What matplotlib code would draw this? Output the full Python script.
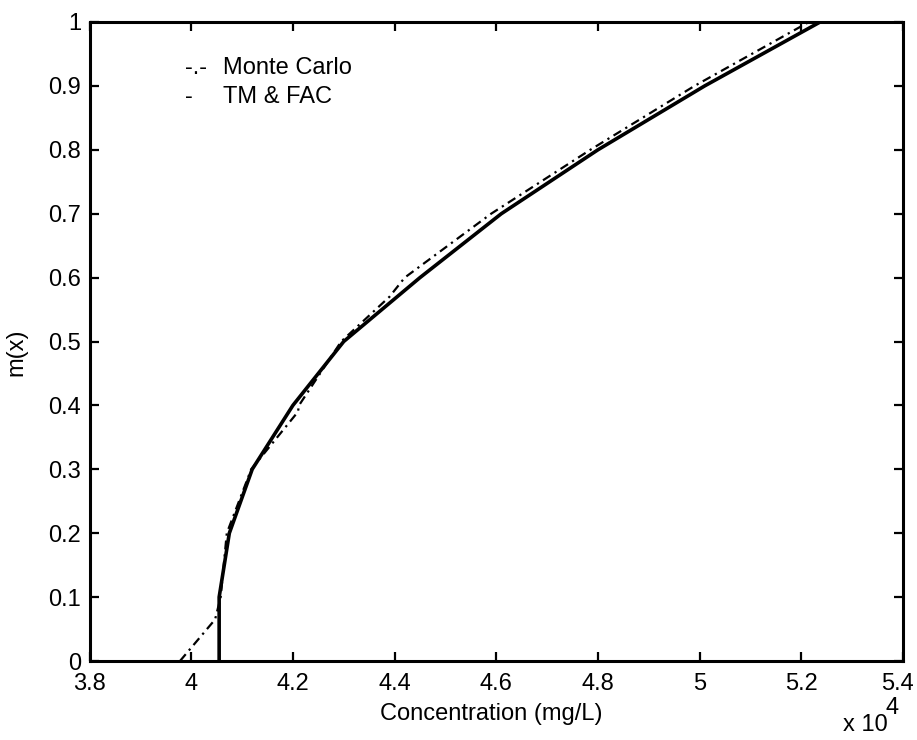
import numpy as np
import matplotlib
matplotlib.use("Agg")
import matplotlib.pyplot as plt
import matplotlib.transforms as mtransforms

plt.rcParams['font.family'] = ['Liberation Sans', 'DejaVu Sans']

# membership levels and concentrations (x 10^4 mg/L)
tm_fac_m = [0.0, 0.10, 0.20, 0.30, 0.40, 0.50, 0.60, 0.70, 0.80, 0.90, 1.00]
tm_fac_x = [4.055, 4.055, 4.075, 4.120, 4.200, 4.300, 4.450, 4.610, 4.800, 5.010, 5.237]

mc_m = [0.0, 0.065, 0.10, 0.20, 0.30, 0.39, 0.40, 0.50, 0.57, 0.60, 0.70, 0.80, 0.90, 1.00]
mc_x = [3.978, 4.047, 4.058, 4.070, 4.118, 4.210, 4.212, 4.295, 4.390, 4.420, 4.590, 4.785, 4.990, 5.215]

xticks = [3.8, 4.0, 4.2, 4.4, 4.6, 4.8, 5.0, 5.2, 5.4]
xtick_labels = ['3.8', '4', '4.2', '4.4', '4.6', '4.8', '5', '5.2', '5.4']
yticks = [0, 0.1, 0.2, 0.3, 0.4, 0.5, 0.6, 0.7, 0.8, 0.9, 1]
ytick_labels = ['0', '0.1', '0.2', '0.3', '0.4', '0.5', '0.6', '0.7', '0.8', '0.9', '1']

fig = plt.figure(figsize=(9.17, 7.40), dpi=100)
ax = fig.add_axes([89.5 / 917, 1 - 661 / 740, 813.5 / 917, 639 / 740])

ax.plot(tm_fac_x, tm_fac_m, color='black', lw=2.6, solid_joinstyle='miter')
ax.plot(mc_x, mc_m, color='black', lw=1.6, linestyle=(0, (4, 2.2, 1, 2.2)))

ax.set_xlim(3.8, 5.4)
ax.set_ylim(0, 1)
ax.set_xticks(xticks)
ax.set_xticklabels(xtick_labels)
ax.set_yticks(yticks)
ax.set_yticklabels(ytick_labels)

for s in ax.spines.values():
    s.set_linewidth(2.2)
ax.tick_params(direction='in', length=6.5, width=1.6, top=True, right=True,
               labelsize=17)
ax.tick_params(axis='y', pad=6)
ax.tick_params(axis='x', pad=9)

# keep the last x label inside the figure
last = ax.get_xticklabels()[-1]
last.set_transform(last.get_transform() +
                   mtransforms.ScaledTranslation(-6 / 100, 0, fig.dpi_scale_trans))

ax.set_xlabel('Concentration (mg/L)', fontsize=17)
ax.set_ylabel('m(x)', fontsize=17)
ax.xaxis.set_label_coords(0.4935, -0.065)
ax.yaxis.set_label_coords(-0.076, 0.4836)

# legend entries written as text
ax.text(0.1174, 0.928, '-.-', fontsize=17, va='center', ha='left', transform=ax.transAxes)
ax.text(0.164, 0.928, 'Monte Carlo', fontsize=17, va='center', ha='left', transform=ax.transAxes)
ax.text(0.1174, 0.8826, '-', fontsize=17, va='center', ha='left', transform=ax.transAxes)
ax.text(0.164, 0.8826, 'TM & FAC', fontsize=17, va='center', ha='left', transform=ax.transAxes)

# axis exponent
fig.text(843 / 917, 1 - 731 / 740, 'x 10', fontsize=17, va='baseline', ha='left')
fig.text(886 / 917, 1 - 714 / 740, '4', fontsize=17, va='baseline', ha='left')

fig.savefig('out.png', dpi=100)
